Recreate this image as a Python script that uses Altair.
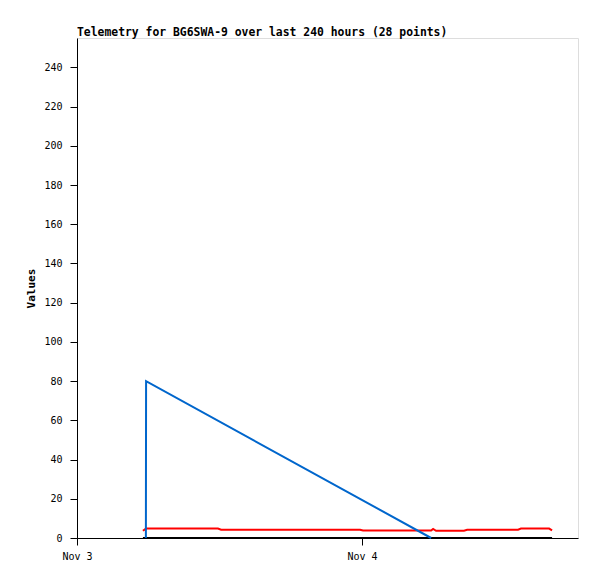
import altair as alt
import pandas as pd

times = [
    "2024-11-03T05:33", "2024-11-03T05:49", "2024-11-03T07:04", "2024-11-03T08:20",
    "2024-11-03T09:36", "2024-11-03T10:52", "2024-11-03T11:52", "2024-11-03T12:08",
    "2024-11-03T13:23", "2024-11-03T14:39", "2024-11-03T15:55", "2024-11-03T17:11",
    "2024-11-03T18:27", "2024-11-03T19:42", "2024-11-03T20:58", "2024-11-03T22:14",
    "2024-11-03T23:50", "2024-11-04T00:05", "2024-11-04T01:46", "2024-11-04T05:49",
    "2024-11-04T05:59", "2024-11-04T06:14", "2024-11-04T08:35", "2024-11-04T08:51",
    "2024-11-04T13:08", "2024-11-04T13:23", "2024-11-04T15:45", "2024-11-04T16:00",
]
red_values = [
    3.7, 4.8, 4.8, 4.8, 4.8, 4.8, 4.8, 4.2,
    4.2, 4.2, 4.2, 4.2, 4.2, 4.2, 4.2, 4.2,
    4.2, 3.8, 3.8, 3.8, 4.6, 3.7, 3.7, 4.2,
    4.2, 4.8, 4.8, 3.9,
]
black_values = [0] * 28

blue_times = ["2024-11-03T05:48", "2024-11-03T05:49", "2024-11-04T05:49"]
blue_values = [0, 80, 0]

x_domain = ["2024-11-03T00:00", "2024-11-04T18:11"]
x_ticks = ["2024-11-03T00:00", "2024-11-04T00:00"]
y_ticks = list(range(0, 241, 20))

df = pd.DataFrame({"time": times, "red": red_values, "black": black_values})
df_blue = pd.DataFrame({"time": blue_times, "blue": blue_values})

mono = "DejaVu Sans Mono"

x_enc = alt.X(
    "time:T",
    scale=alt.Scale(domain=x_domain),
    axis=alt.Axis(
        values=x_ticks, format="%b %-d", title=None, grid=False,
        labelFont=mono, labelFontSize=10, labelColor="#000", labelAlign="center",
        tickColor="#000", domainColor="#000", tickSize=7, labelPadding=6,
    ),
)
y_axis = alt.Axis(
    values=y_ticks, title="Values", grid=False,
    labelFont=mono, labelFontSize=10, labelColor="#000",
    tickColor="#000", domainColor="#000", tickSize=7, labelPadding=8,
    titleFont=mono, titleFontSize=11, titleFontWeight="bold", titleColor="#000",
    titlePadding=7,
)
y_scale = alt.Scale(domain=[0, 255], nice=False)

black = alt.Chart(df).mark_line(color="#000000", strokeWidth=2).encode(
    x=x_enc, y=alt.Y("black:Q", scale=y_scale, axis=y_axis)
)
red = alt.Chart(df).mark_line(color="#ff0000", strokeWidth=2).encode(
    x="time:T", y="red:Q"
)
blue = alt.Chart(df_blue).mark_line(color="#0066cc", strokeWidth=2).encode(
    x="time:T", y="blue:Q"
)

chart = alt.layer(black, red, blue).properties(
    width=501,
    height=500,
    title=alt.TitleParams(
        "Telemetry for BG6SWA-9 over last 240 hours (28 points)",
        anchor="start", frame="group", font=mono, fontSize=11.4,
        fontWeight="bold", color="#000", offset=0,
    ),
    autosize=alt.AutoSizeParams(type="none"),
    padding={"left": 69, "top": 30, "right": 10, "bottom": 30},
).configure_view(stroke="#333333", strokeWidth=1).configure(background="white")

chart.save("out.html", embed_options={"renderer": "svg", "actions": False})
